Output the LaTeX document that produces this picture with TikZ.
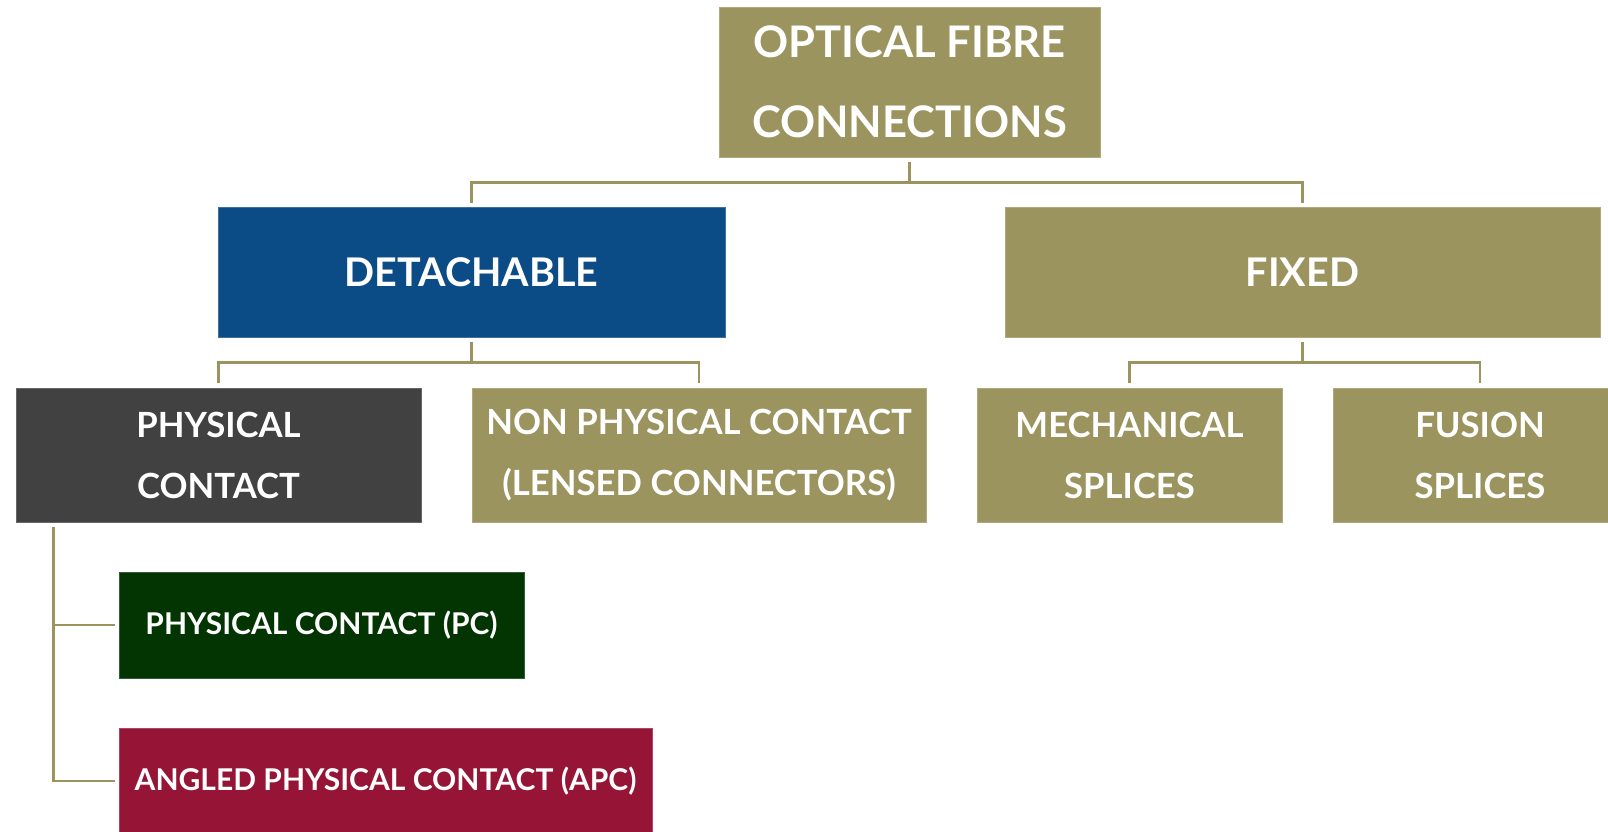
\documentclass[tikz,border=0pt]{standalone}
\usepackage{fontspec}
\setmainfont{Lato}
\definecolor{fibreolive}{HTML}{9C945E}
\definecolor{fibreblue}{HTML}{0B4C87}
\definecolor{fibregray}{HTML}{414141}
\definecolor{fibregreen}{HTML}{033503}
\definecolor{fibrered}{HTML}{961537}
\tikzset{
  box/.style={rectangle, fill=#1, draw=#1!80!white, line width=0.8pt, text=white,
    align=center, inner sep=0pt},
  conn/.style={draw=fibreolive, line width=2.5pt},
  ftitle/.style={font=\fontsize{43.5}{80}\selectfont\bfseries},
  fone/.style={font=\fontsize{39.5}{70}\selectfont\bfseries},
  ftwo/.style={font=\fontsize{34.7}{61}\selectfont\bfseries},
  fthree/.style={font=\fontsize{30}{40}\selectfont\bfseries}
}
\begin{document}
\begin{tikzpicture}[x=1pt,y=-1pt]
\clip (0,0) rectangle (1608,832);
\fill[white] (0,0) rectangle (1608,832);
\node[box=fibreolive, ftitle, minimum width=381pt, minimum height=150pt] (top) at (909.5,82) {OPTICAL FIBRE\\CONNECTIONS};
\node[box=fibreblue, fone, minimum width=507pt, minimum height=130pt] (detach) at (471.5,272) {DETACHABLE};
\node[box=fibreolive, fone, minimum width=595pt, minimum height=130pt] (fixed) at (1302.5,272) {FIXED};
\node[box=fibregray, ftwo, minimum width=405pt, minimum height=134pt] (pc) at (218.5,455) {PHYSICAL\\CONTACT};
\node[box=fibreolive, ftwo, minimum width=454pt, minimum height=134pt] (npc) at (699,455) {NON PHYSICAL CONTACT\\(LENSED CONNECTORS)};
\node[box=fibreolive, ftwo, minimum width=305pt, minimum height=134pt] (mech) at (1129.5,455) {MECHANICAL\\SPLICES};
\node[box=fibreolive, ftwo, minimum width=294pt, minimum height=134pt] (fusion) at (1480,455) {FUSION\\SPLICES};
\node[box=fibregreen, fthree, minimum width=405pt, minimum height=106pt] (pcpc) at (321.5,625) {PHYSICAL CONTACT (PC)};
\node[box=fibrered, fthree, minimum width=533pt, minimum height=106pt] (apc) at (385.5,781) {ANGLED PHYSICAL CONTACT (APC)};
\draw[conn] ([yshift=-5pt]top.south) -- ++(0,20) -| ([yshift=4pt]detach.north);
\draw[conn] ([yshift=-5pt]top.south) -- ++(0,20) -| ([yshift=4pt]fixed.north);
\draw[conn] ([yshift=-5pt]detach.south) -- ++(0,20) -| ([yshift=5pt]pc.north);
\draw[conn] ([yshift=-5pt]detach.south) -- ++(0,20) -| ([yshift=5pt]npc.north);
\draw[conn] ([yshift=-5pt]fixed.south) -- ++(0,20) -| ([yshift=5pt]mech.north);
\draw[conn] ([yshift=-5pt]fixed.south) -- ++(0,20) -| ([yshift=5pt]fusion.north);
\draw[conn] ([shift={(38pt,-5pt)}]pc.south west) |- ([xshift=-4pt]pcpc.west);
\draw[conn] ([shift={(38pt,-5pt)}]pc.south west) |- ([xshift=-4pt]apc.west);
\end{tikzpicture}
\end{document}
